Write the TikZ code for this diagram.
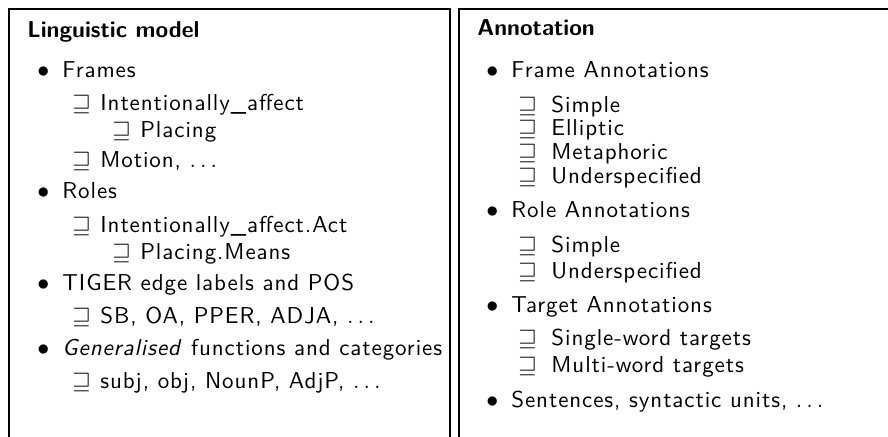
\documentclass[tikz,border=0pt]{standalone}
\usepackage{tikz}
\usepackage{amssymb}
\usepackage{fontspec}
\setsansfont{lmsans10-regular.otf}[
    LetterSpace=4,
    BoldFont=lmsans10-bold.otf, BoldFeatures={LetterSpace=0},
    ItalicFont=lmsans10-oblique.otf]
\usetikzlibrary{positioning}

\begin{document}
\begin{tikzpicture}[
        x=0.5pt, y=-0.5pt,
        every node/.style={anchor=base west, inner sep=0pt, font=\fontsize{11.5}{14}\sffamily},
        frameline/.style={line width=1.4pt},
        heading/.style={font=\fontsize{11.5}{14}\sffamily\bfseries},
        bulitem/.style={execute at begin node={\makebox[12.5pt][l]{$\bullet$}}},
        subitem/.style={execute at begin node={\makebox[14pt][l]{$\sqsupseteq$}}},
        subitemwide/.style={execute at begin node={\makebox[16.5pt][l]{$\sqsupseteq$}}}
    ]
    \useasboundingbox (0,0) rectangle (888,436);

    % Boxes
    \draw[frameline] (9,440) |- (450,9) -- (450,440);
    \draw[frameline] (459,440) |- (892,9);

    % Linguistic model
    \node[heading] (lmodel) at (27,37) {Linguistic model};
    \node[bulitem] (frames) at (37,77) {Frames};
    \node[subitem] (intaff) at (72,110) {Intentionally\_affect};
    \node[subitem] (placing) at (112,137) {Placing};
    \node[subitem] (motion) at (72,167) {Motion, $\ldots$};
    \node[bulitem] (roles) at (37,198) {Roles};
    \node[subitem] (intact) at (72,232) {Intentionally\_affect.Act};
    \node[subitem] (placmeans) at (112,259) {Placing.Means};
    \node[bulitem] (tiger) at (37,290) {TIGER edge labels and POS};
    \node[subitem] (sbetc) at (72,323) {SB, OA, PPER, ADJA, $\ldots$};
    \node[bulitem] (general) at (37,355) {\emph{Generalised} functions and categories};
    \node[subitem] (subjetc) at (72,388) {subj, obj, NounP, AdjP, $\ldots$};

    % Annotation
    \node[heading] (annot) at (477,35) {Annotation};
    \node[bulitem] (frameann) at (486,77) {Frame Annotations};
    \node[subitemwide] (fsimple) at (518,112) {Simple};
    \node[subitemwide] (felliptic) at (518,135) {Elliptic};
    \node[subitemwide] (fmeta) at (518,159) {Metaphoric};
    \node[subitemwide] (funder) at (518,183) {Underspecified};
    \node[bulitem] (roleann) at (486,217) {Role Annotations};
    \node[subitemwide] (rsimple) at (518,252) {Simple};
    \node[subitemwide] (runder) at (518,278) {Underspecified};
    \node[bulitem] (targetann) at (486,312) {Target Annotations};
    \node[subitemwide] (single) at (518,345) {Single-word targets};
    \node[subitemwide] (multi) at (518,372) {Multi-word targets};
    \node[bulitem] (sentences) at (486,407) {Sentences, syntactic units, $\ldots$};

\end{tikzpicture}
\end{document}
